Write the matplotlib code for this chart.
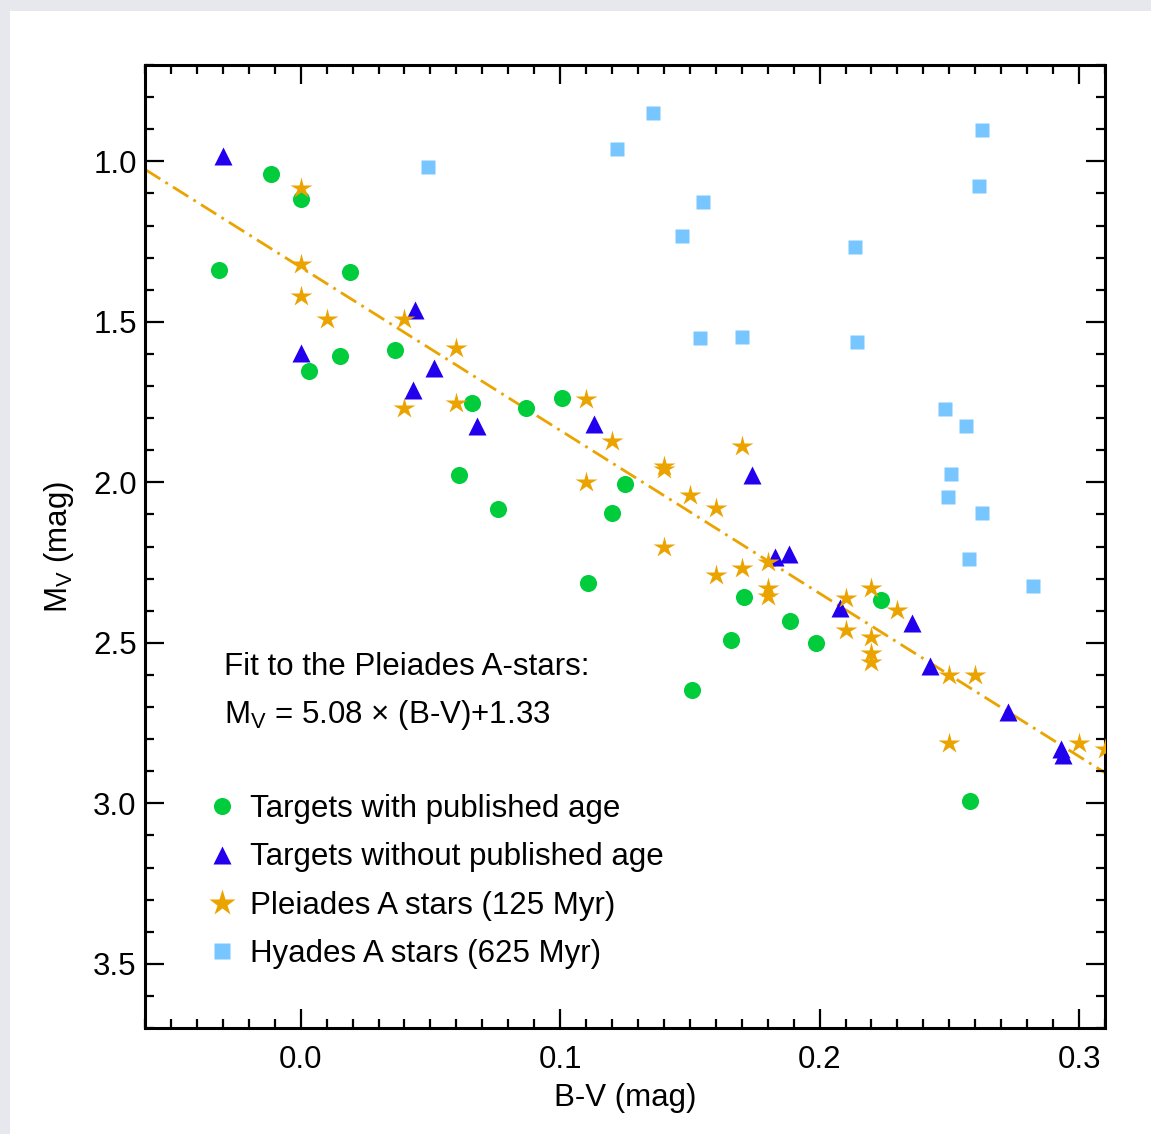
import matplotlib
matplotlib.use("Agg")
import matplotlib.pyplot as plt
from matplotlib.lines import Line2D
from matplotlib.patches import Rectangle
from matplotlib.ticker import MultipleLocator
import numpy as np

plt.rcParams['font.family'] = ['Liberation Sans', 'DejaVu Sans']
plt.rcParams['mathtext.fontset'] = 'custom'
plt.rcParams['mathtext.rm'] = 'Liberation Sans'
plt.rcParams['mathtext.it'] = 'Liberation Sans:italic'
plt.rcParams['mathtext.default'] = 'regular'

# targets with published age
pub_bv = [-0.0115, 0.000, -0.0315, 0.0192, 0.0362, 0.0150, 0.0031, 0.0662, 0.0869, 0.1008, 0.0612,
          0.0762, 0.1200, 0.1250, 0.1108, 0.1708, 0.1658, 0.1885, 0.1985, 0.2235, 0.1508, 0.2581]
pub_mv = [1.040, 1.118, 1.339, 1.345, 1.587, 1.606, 1.652, 1.752, 1.770, 1.736, 1.978,
          2.084, 2.096, 2.006, 2.314, 2.357, 2.491, 2.432, 2.500, 2.366, 2.646, 2.994]

# targets without published age
nopub_bv = [-0.0300, 0.000, 0.0442, 0.0431, 0.0512, 0.0681, 0.1131, 0.1738,
            0.1827, 0.1881, 0.2077, 0.2358, 0.2427, 0.2727, 0.2931, 0.2938]
nopub_mv = [0.984, 1.596, 1.463, 1.711, 1.643, 1.826, 1.817, 1.978,
            2.233, 2.224, 2.391, 2.438, 2.571, 2.717, 2.832, 2.848]

# Pleiades A stars
ple_bv = [0.00, 0.00, 0.00, 0.01, 0.04, 0.06, 0.06, 0.04, 0.11, 0.12, 0.14, 0.14,
          0.11, 0.15, 0.16, 0.17, 0.14, 0.16, 0.17, 0.18, 0.18, 0.18, 0.21, 0.22,
          0.23, 0.21, 0.22, 0.22, 0.22, 0.25, 0.26, 0.25, 0.30, 0.31]
ple_mv = [1.084, 1.320, 1.419, 1.491, 1.491, 1.581, 1.752, 1.767, 1.739, 1.870, 1.950, 1.960,
          2.000, 2.040, 2.081, 1.888, 2.202, 2.289, 2.267, 2.248, 2.329, 2.354, 2.360, 2.329,
          2.398, 2.460, 2.481, 2.531, 2.559, 2.599, 2.599, 2.811, 2.811, 2.832]

# Hyades A stars
hya_bv = [0.1358, 0.1219, 0.2627, 0.2615, 0.1550, 0.1469, 0.2138, 0.1538, 0.1700,
          0.2146, 0.2485, 0.2565, 0.2508, 0.2496, 0.2627, 0.2577, 0.2823, 0.0492]
hya_mv = [0.851, 0.963, 0.901, 1.078, 1.127, 1.233, 1.267, 1.550, 1.547,
          1.562, 1.773, 1.826, 1.975, 2.047, 2.096, 2.239, 2.323, 1.019]

fit_slope = 5.08
fit_zero = 1.33

green = '#00cc3c'
blue = '#2200ee'
orange = '#eba300'
lblue = '#78c6ff'

fs = 22.5

fig = plt.figure(figsize=(11.51, 11.34), dpi=100, facecolor='#e6e8ed')
fig.patches.append(Rectangle((10 / 1151, 0), 1, 1 - 11 / 1134, transform=fig.transFigure,
                             facecolor='white', edgecolor='none', zorder=-10))
ax = fig.add_axes([145 / 1151, 1 - 1028 / 1134, 960 / 1151, 963 / 1134])
ax.set_facecolor('white')

xs = np.array([-0.06, 0.31])
ax.plot(xs, fit_slope * xs + fit_zero, color=orange, lw=2.0,
        linestyle=(0, (6.5, 2.2, 1, 2.2)), zorder=1)

ax.plot(hya_bv, hya_mv, 's', color=lblue, ms=10.3, mec='none', zorder=2)
ax.plot(pub_bv, pub_mv, 'o', color=green, ms=12.3, mec='none', zorder=3)
ax.plot(nopub_bv, nopub_mv, '^', color=blue, ms=12.5, mec='none', zorder=4)
ax.plot(ple_bv, ple_mv, '*', color=orange, ms=16, mec='none', zorder=5)

ax.set_xlim(-0.06, 0.31)
ax.set_ylim(3.7, 0.7)

ax.xaxis.set_major_locator(MultipleLocator(0.1))
ax.xaxis.set_minor_locator(MultipleLocator(0.01))
ax.yaxis.set_major_locator(MultipleLocator(0.5))
ax.yaxis.set_minor_locator(MultipleLocator(0.1))
ax.xaxis.set_major_formatter(plt.FuncFormatter(lambda v, p: f'{v:.1f}'))
ax.yaxis.set_major_formatter(plt.FuncFormatter(lambda v, p: f'{v:.1f}'))

ax.tick_params(which='both', direction='in', top=True, right=True, width=1.6,
               labelsize=fs, colors='black')
ax.tick_params(which='major', length=13.5)
ax.tick_params(which='minor', length=6.5)
ax.tick_params(axis='x', which='major', pad=12)
ax.tick_params(axis='y', which='major', pad=6)
for s in ax.spines.values():
    s.set_linewidth(2.2)

ax.set_xlabel('B-V (mag)', fontsize=fs, labelpad=6)
ax.set_ylabel(r'M$_{V}$ (mag)', fontsize=fs, labelpad=12)

ax.text(0.0823, 0.375, 'Fit to the Pleiades A-stars:', transform=ax.transAxes,
        fontsize=fs, va='center', ha='left')
ax.text(0.0823, 0.325, r'M$_{V}$ = 5.08 × (B-V)+1.33', transform=ax.transAxes,
        fontsize=fs, va='center', ha='left')

handles = [
    Line2D([], [], ls='none', marker='o', color=green, ms=12.3, mec='none'),
    Line2D([], [], ls='none', marker='^', color=blue, ms=12.3, mec='none'),
    Line2D([], [], ls='none', marker='*', color=orange, ms=19.5, mec='none'),
    Line2D([], [], ls='none', marker='s', color=lblue, ms=12.0, mec='none'),
]
labels = ['Targets with published age', 'Targets without published age',
          'Pleiades A stars (125 Myr)', 'Hyades A stars (625 Myr)']
ax.legend(handles, labels, loc='upper left', bbox_to_anchor=((209 - 145) / 960, (1028 - 794) / 963),
          frameon=False, fontsize=fs, handlelength=0.85, handletextpad=0.45,
          labelspacing=0.59, borderpad=0, borderaxespad=0)

fig.savefig('out.png', dpi=100, facecolor=fig.get_facecolor())
